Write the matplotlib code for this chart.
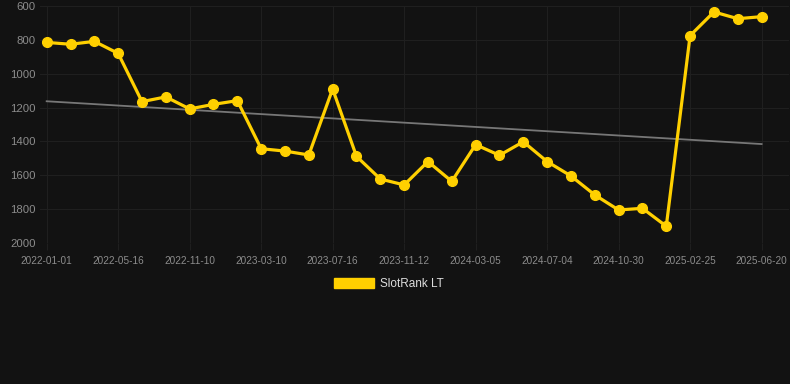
import numpy as np
import matplotlib
matplotlib.use("Agg")
import matplotlib.pyplot as plt
from matplotlib.patches import Patch

# 数据: 每3个点标注一个日期
tick_labels = ["2022-01-01", "2022-05-16", "2022-11-10", "2023-03-10", "2023-07-16",
               "2023-11-12", "2024-03-05", "2024-07-04", "2024-10-30", "2025-02-25",
               "2025-06-20"]
rank = [815, 826, 809, 880, 1165, 1137, 1208, 1181, 1159, 1443,
        1457, 1480, 1090, 1488, 1622, 1657, 1519, 1636, 1419, 1482,
        1402, 1519, 1604, 1716, 1805, 1795, 1901, 775, 635, 675, 663]
series_name = "SlotRank LT"

plt.rcParams['font.family'] = ['Liberation Sans', 'DejaVu Sans']
bg = "#121212"

fig = plt.figure(figsize=(7.9, 3.84), dpi=100, facecolor=bg)
ax = fig.add_axes([40 / 790, 1 - 243 / 384, 749 / 790, 237 / 384])
ax.set_facecolor(bg)

x = np.arange(len(rank))
y = np.array(rank)

# 趋势线 (线性回归)
k, b = np.polyfit(x, y, 1)
ax.plot(x, k * x + b, color="#777777", linewidth=1.3, zorder=2)

ax.plot(x, y, color="#FFD000", linewidth=2.3, marker="o", markersize=7,
        markerfacecolor="#FFD000", markeredgecolor="#FFD000", zorder=3)

ax.set_ylim(2000, 600)
ax.set_yticks([600, 800, 1000, 1200, 1400, 1600, 1800, 2000])
ax.set_xlim(-0.28, 31.15)
ax.set_xticks(x[::3])
ax.set_xticklabels(tick_labels)

ax.grid(True, color="#1f1f1f", linewidth=0.8)
for s in ax.spines.values():
    s.set_visible(False)
ax.tick_params(axis="y", colors="#8c8c8c", labelsize=8.2, length=0, pad=3)
ax.tick_params(axis="x", colors="#1f1f1f", labelcolor="#8c8c8c", labelsize=7.2,
               length=5, width=0.8, pad=4)

fig.legend(handles=[Patch(facecolor="#FFD000", edgecolor="#FFD000")], labels=[series_name],
           loc="center", bbox_to_anchor=(389 / 790, 1 - 284 / 384), frameon=False,
           handlelength=3.4, handleheight=1.0, handletextpad=0.5,
           fontsize=8.5, labelcolor="#dddddd")

fig.savefig("out.png", dpi=100, facecolor=bg)
